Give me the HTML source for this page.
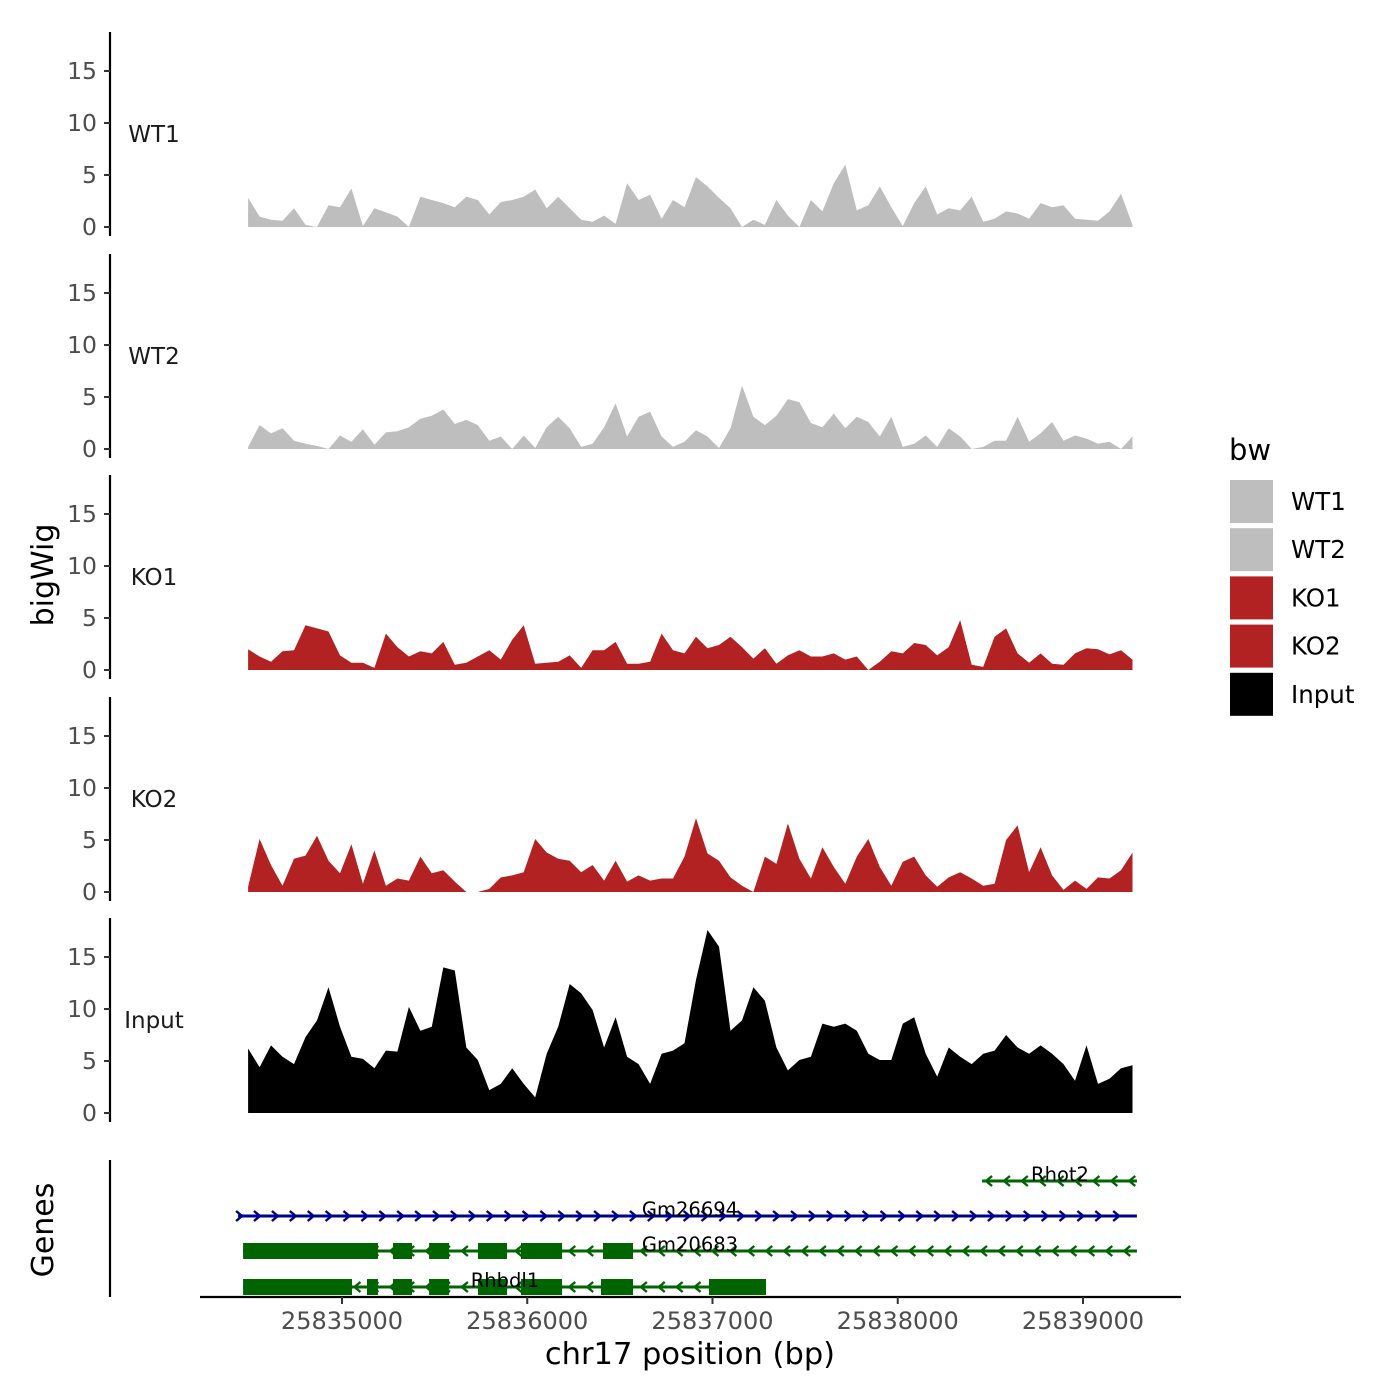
<!DOCTYPE html>
<html><head><meta charset="utf-8"><style>
html,body{margin:0;padding:0;background:#fff;}
svg{display:block;font-family:"DejaVu Sans","Liberation Sans",sans-serif;}
</style></head><body>
<svg id="chart" width="1400" height="1400" viewBox="0 0 1400 1400" xmlns="http://www.w3.org/2000/svg">
<rect width="1400" height="1400" fill="#fff"/>
<g id="panels"></g>
<g id="genes"></g>
<g id="xaxis"></g>
<text transform="translate(53,575) rotate(-90)" text-anchor="middle" font-size="30" fill="#000">bigWig</text>
<text transform="translate(53,1230) rotate(-90)" text-anchor="middle" font-size="30" fill="#000">Genes</text>
<text x="690" y="1364" text-anchor="middle" font-size="30.5" fill="#000">chr17 position (bp)</text>
<g id="legend"></g>
</svg>
<script>
const samples = ["WT1","WT2","KO1","KO2","Input"];
const sampleColors = ["#bebebe","#bebebe","#b22222","#b22222","#000000"];
const binStart = 25834493;
const binStep = 62;
const wt1 = [2.8,1.0,0.7,0.6,1.8,0.2,0,2.1,1.9,3.7,0.1,1.8,1.4,1.0,0,2.9,2.6,2.3,1.9,2.9,2.6,1.2,2.4,2.6,2.9,3.6,1.8,2.9,1.8,0.7,0.5,1.1,0.3,4.2,2.6,3.1,0.8,2.6,1.9,4.8,3.9,2.8,1.8,0,0.7,0.2,2.6,1.1,0,2.6,1.5,4.2,6.0,1.6,2.1,3.9,1.9,0.1,2.3,3.9,1.2,1.8,1.6,2.9,0.5,0.8,1.5,1.3,0.8,2.3,1.9,2.1,0.8,0.7,0.6,1.5,3.2,0.2];
const wt2 = [0.2,2.3,1.5,2.0,0.8,0.5,0.3,0,1.3,0.7,1.9,0.4,1.6,1.7,2.1,2.9,3.2,3.8,2.4,2.8,2.3,0.8,1.2,0,1.3,0.1,2.1,3.1,2.0,0.2,0.5,2.1,4.4,1.2,3.1,3.6,1.2,0.2,0.7,1.8,1.2,0.1,2.0,6.1,3.1,2.3,3.2,4.8,4.5,2.5,2.1,3.4,2.0,3.1,2.6,1.2,3.1,0.2,0.5,1.3,0.2,2.0,1.2,0,0.2,0.8,0.8,3.1,0.7,1.5,2.6,0.8,1.3,1.0,0.5,0.7,0,1.2];
const ko1 = [2.0,1.3,0.8,1.8,1.9,4.3,4.0,3.7,1.4,0.7,0.7,0.2,3.5,2.2,1.3,1.8,1.6,2.7,0.5,0.7,1.3,1.9,1.0,2.9,4.3,0.6,0.7,0.8,1.4,0.2,1.9,1.9,2.7,0.6,0.6,0.8,3.5,1.9,1.6,3.2,2.1,2.4,3.2,2.2,1.1,2.1,0.6,1.4,1.9,1.3,1.3,1.6,1.0,1.3,0,0.8,1.8,1.6,2.6,2.4,1.4,2.2,4.8,0.5,0.3,3.2,4.0,1.6,0.7,1.6,0.6,0.5,1.6,2.1,2.0,1.5,1.9,1.0];
const ko2 = [0.5,5.1,2.6,0.6,3.2,3.5,5.4,3.0,1.8,4.6,0.8,4.0,0.6,1.3,1.1,3.4,1.8,2.1,1.0,0,0,0.3,1.4,1.6,1.9,5.1,3.8,3.2,3.0,1.9,2.6,1.1,3.0,1.0,1.6,1.1,1.3,1.3,3.4,7.1,3.7,3.0,1.4,0.6,0,3.4,2.7,6.6,3.2,1.3,4.3,2.4,0.8,3.4,5.1,2.4,0.6,2.9,3.4,1.6,0.5,1.4,1.9,1.3,0.6,0.8,5.0,6.4,1.9,4.3,1.6,0.2,1.1,0.3,1.4,1.3,2.1,3.8];
const input = [6.2,4.4,6.5,5.4,4.7,7.3,8.9,12.1,8.3,5.4,5.2,4.3,6.0,5.9,10.2,7.9,8.3,14.0,13.7,6.3,5.1,2.2,2.8,4.3,2.8,1.5,5.7,8.3,12.4,11.5,9.9,6.3,9.2,5.4,4.7,2.8,5.7,6.0,6.7,12.8,17.6,16.0,7.9,8.9,12.1,10.8,6.3,4.1,5.1,5.4,8.6,8.3,8.6,7.9,5.7,5.1,5.1,8.6,9.2,5.7,3.5,6.3,5.4,4.7,5.7,6.0,7.5,6.3,5.7,6.5,5.7,4.7,3.1,6.5,2.8,3.3,4.3,4.6];
const seriesValues = [wt1, wt2, ko1, ko2, input];
const yTicks = [0,5,10,15];
const xTicks = [25835000,25836000,25837000,25838000,25839000];
const geneNames = ["Rhot2","Gm26694","Gm20683","Rhbdl1"];
const geneStarts = [25838455,25834439,25834466,25834466];
const geneEnds = [25839291,25839291,25839291,25837289];
const geneStrands = [-1,1,-1,-1];
const geneColors = ["#006400","#00008b","#006400","#006400"];
const gm20683Exons = [[25834466,25835194],[25835275,25835378],[25835470,25835578],[25835734,25835891],[25835966,25836188],[25836409,25836571]];
const rhbdl1Exons = [[25834466,25835054],[25835135,25835194],[25835275,25835378],[25835470,25835578],[25835734,25835891],[25835966,25836188],[25836398,25836571],[25836981,25837289]];
const geneExons = [[],[],gm20683Exons,rhbdl1Exons];

const NS="http://www.w3.org/2000/svg";
function mk(tag, attrs, parent){const e=document.createElementNS(NS,tag);for(const k in attrs)e.setAttribute(k,attrs[k]);parent.appendChild(e);return e;}
const xScale = bp => 342 + (bp - 25835000) * 0.18525;
const baselines = [227,449,670,892,1113];
const pxPerUnit = 10.4;
const panels = document.getElementById('panels');
samples.forEach((s, p) => {
  const g = mk('g', {}, panels);
  
  
  const base = baselines[p];
  const yS = v => base - v * pxPerUnit;
  const vals = seriesValues[p];
  let d = 'M' + xScale(binStart).toFixed(1) + ',' + base;
  vals.forEach((v, i) => { d += ' L' + xScale(binStart + i * binStep).toFixed(1) + ',' + yS(v).toFixed(1); });
  d += ' L' + xScale(binStart + (vals.length - 1) * binStep).toFixed(1) + ',' + base + ' Z';
  const area = mk('path', {d: d, fill: sampleColors[p]}, g);
  
  
  const ax = mk('line', {x1:110, x2:110, y1: base - 195, y2: base + 9, stroke:'#000', 'stroke-width':2.2}, g);
  
  
  yTicks.forEach(t => {
    mk('line', {x1:104, x2:110, y1: yS(t), y2: yS(t), stroke:'#333', 'stroke-width':2}, g);
    const tl = mk('text', {x:97, y: yS(t) + 8, 'text-anchor':'end', 'font-size':23.5, fill:'#4d4d4d'}, g);
    tl.textContent = t;
    
    
  });
  const lab = mk('text', {x:154, y: base - 85, 'text-anchor':'middle', 'font-size':23, fill:'#1a1a1a'}, g);
  lab.textContent = s;
  
  
});

// gene track
const genes = document.getElementById('genes');
const gax = mk('line', {x1:110, x2:110, y1:1160, y2:1297, stroke:'#000', 'stroke-width':2.2}, genes);


const geneY = [1181,1216,1251,1287];
geneNames.forEach((n, i) => {
  const g = mk('g', {}, genes);
  
  
  const y = geneY[i], x1 = xScale(geneStarts[i]), x2 = xScale(geneEnds[i]), c = geneColors[i];
  mk('line', {x1:x1, x2:x2, y1:y, y2:y, stroke:c, 'stroke-width':3}, g);
  for (let x = x1 + 4; x <= x2; x += 17.9) {
    const dir = geneStrands[i];
    const tip = x, back = x - 6 * dir;
    mk('polyline', {points: back+','+(y-5)+' '+tip+','+y+' '+back+','+(y+5), fill:'none', stroke:c, 'stroke-width':2.4}, g);
  }
  geneExons[i].forEach(ex => {
    mk('rect', {x: xScale(ex[0]), y: y - 8, width: xScale(ex[1]) - xScale(ex[0]), height: 16, fill:c}, g);
  });
  const tx = mk('text', {x: i === 0 ? 1060 : (i === 3 ? 505 : 690), y: y, 'text-anchor':'middle', 'font-size':19.5, fill:'#000'}, g);
  tx.textContent = n;
  
  
});

// x axis
const xa = document.getElementById('xaxis');
const xl = mk('line', {x1:200, x2:1181, y1:1297, y2:1297, stroke:'#000', 'stroke-width':2.2}, xa);


xTicks.forEach(t => {
  const x = xScale(t);
  mk('line', {x1:x, x2:x, y1:1297, y2:1304, stroke:'#333', 'stroke-width':2}, xa);
  const tl = mk('text', {x:x, y:1329, 'text-anchor':'middle', 'font-size':24, fill:'#4d4d4d'}, xa);
  tl.textContent = t;
  
  
});

// legend
const lg = document.getElementById('legend');
const lt = mk('text', {x:1229, y:460, 'font-size':29, fill:'#000'}, lg);
lt.textContent = 'bw';


samples.forEach((s, i) => {
  const g = mk('g', {}, lg);
  
  
  mk('rect', {x:1230, y:480 + i * 48.2, width:43, height:43, fill:sampleColors[i]}, g);
  const t = mk('text', {x:1291, y:510 + i * 48.2, 'font-size':24.5, fill:'#000'}, g);
  t.textContent = s;
});
</script>
</body></html>
